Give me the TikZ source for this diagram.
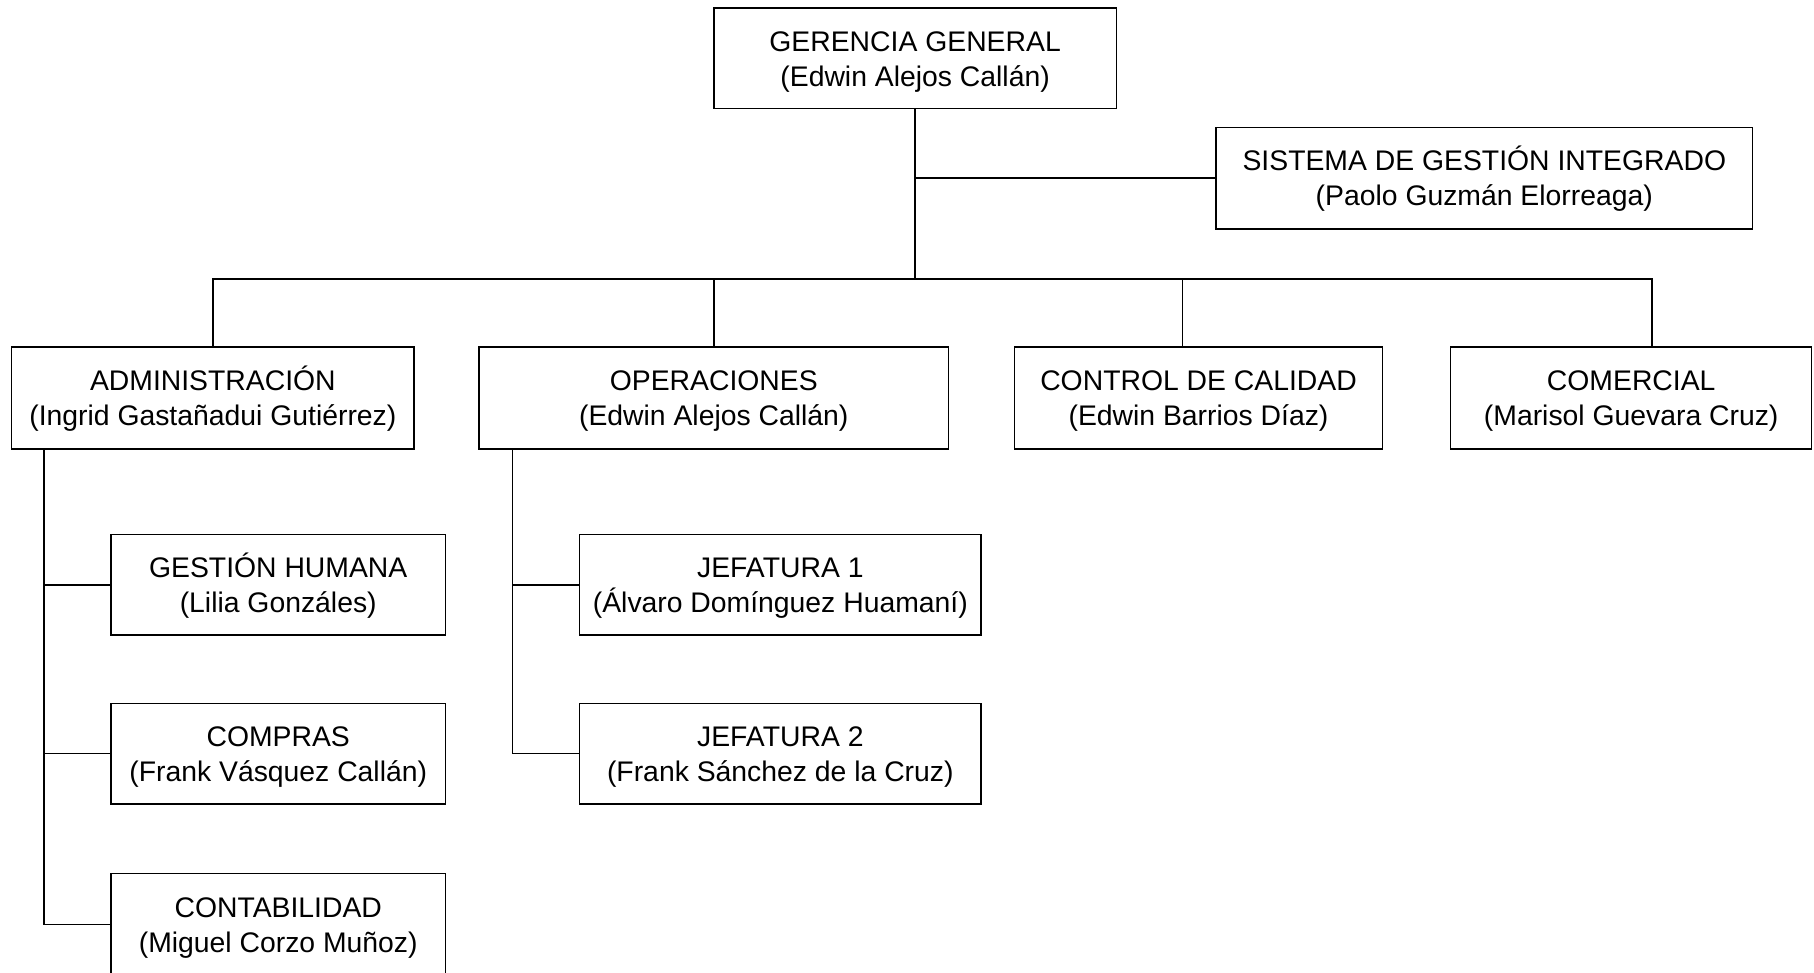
\documentclass[tikz,border=0pt]{standalone}
\usepackage{fontspec}
\setmainfont{Liberation Sans}
% two-line label with fixed struts so every label sits at the same height
\newcommand\orglabel[2]{\rule{0pt}{30pt}#1\\#2\rule[-12.3pt]{0pt}{0pt}}
\begin{document}
\begin{tikzpicture}[x=1pt,y=-1pt,
  box/.style={draw, line width=1.2pt, inner sep=0pt, align=center,
    font=\fontsize{24.5}{30.3}\selectfont},
  link/.style={line width=1.2pt}]
\useasboundingbox (0,0) rectangle (1568,841);

% top level
\node[box, minimum width=348pt, minimum height=87pt] (gg) at (791,50.5)
  {\orglabel{GERENCIA GENERAL}{(Edwin Alejos Callán)}};
\node[box, minimum width=464pt, minimum height=88pt] (sgi) at (1283,154)
  {\orglabel{SISTEMA DE GESTIÓN INTEGRADO}{(Paolo Guzmán Elorreaga)}};

% departments
\node[box, minimum width=348pt, minimum height=88pt] (adm) at (184,344)
  {\orglabel{ADMINISTRACIÓN}{(Ingrid Gastañadui Gutiérrez)}};
\node[box, minimum width=406pt, minimum height=88pt] (ope) at (617,344)
  {\orglabel{OPERACIONES}{(Edwin Alejos Callán)}};
\node[box, minimum width=318pt, minimum height=88pt] (cc) at (1036,344)
  {\orglabel{CONTROL DE CALIDAD}{(Edwin Barrios Díaz)}};
\node[box, minimum width=312pt, minimum height=88pt] (com) at (1410,344)
  {\orglabel{COMERCIAL}{(Marisol Guevara Cruz)}};

% administration units
\node[box, minimum width=289pt, minimum height=87pt] (gh) at (240.5,505.5)
  {\orglabel{GESTIÓN HUMANA}{(Lilia Gonzáles)}};
\node[box, minimum width=289pt, minimum height=87pt] (comp) at (240.5,651.5)
  {\orglabel{COMPRAS}{(Frank Vásquez Callán)}};
\node[box, minimum width=289pt, minimum height=88pt] (cont) at (240.5,799)
  {\orglabel{CONTABILIDAD}{(Miguel Corzo Muñoz)}};

% operations units
\node[box, minimum width=347pt, minimum height=87pt] (j1) at (674.5,505.5)
  {\orglabel{JEFATURA 1}{(Álvaro Domínguez Huamaní)}};
\node[box, minimum width=347pt, minimum height=87pt] (j2) at (674.5,651.5)
  {\orglabel{JEFATURA 2}{(Frank Sánchez de la Cruz)}};

% connector anchor points
\coordinate (bus) at (0,241);
\coordinate (ccTop) at (1022,300);
\coordinate (comTop) at (1428,300);
\coordinate (admTrunk) at (38,388);
\coordinate (opeTrunk) at (443,388);

% main trunk and staff branch
\draw[link] (gg.south) -- (gg.south |- bus);
\draw[link] (gg.south |- sgi.west) -- (sgi.west);

% department bus
\draw[link] (adm.north) |- (comTop |- bus) -- (comTop);
\draw[link] (ope.north) -- (ope.north |- bus);
\draw[link] (ccTop) -- (ccTop |- bus);

% administration branches
\draw[link] (admTrunk) |- (cont.west);
\draw[link] (admTrunk |- gh.west) -- (gh.west);
\draw[link] (admTrunk |- comp.west) -- (comp.west);

% operations branches
\draw[link] (opeTrunk) |- (j2.west);
\draw[link] (opeTrunk |- j1.west) -- (j1.west);
\end{tikzpicture}
\end{document}
